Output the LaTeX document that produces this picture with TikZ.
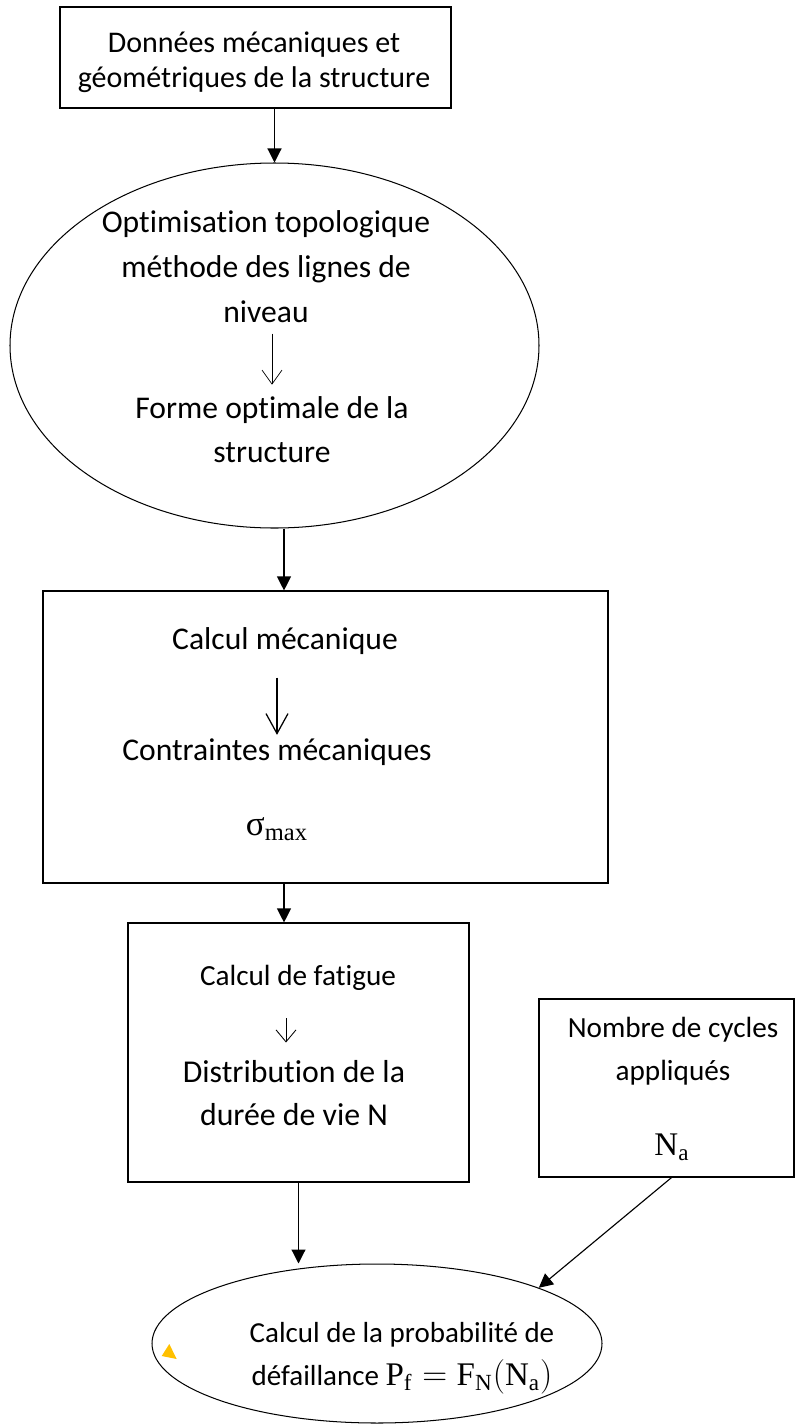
\documentclass[tikz,border=0pt]{standalone}
\usepackage{fontspec}
\usepackage{amsmath}
\setmainfont{Carlito}[Ligatures=NoCommon]
\newfontfamily\cambria{Liberation Serif}
\newcommand{\mth}[1]{\text{\cambria #1}}
\usetikzlibrary{shapes.geometric,arrows.meta,calc}
\definecolor{ancre}{HTML}{FFC000}
\tikzset{
  boite/.style={draw=black, line width=.2mm, rectangle, inner sep=0pt},
  ovale/.style={draw=black, line width=.18mm, ellipse, inner sep=0pt},
  texte/.style={align=center, anchor=base, inner sep=0pt},
  fleche/.style={-{Triangle[length=7pt,width=7pt]}, line width=.2mm, black},
  flechetxt/.style={-{Straight Barb[length=7pt,width=10pt]}, line width=.12mm, black},
}
\begin{document}
\begin{tikzpicture}[x=0.5pt,y=-0.5pt]
        \useasboundingbox (0,0) rectangle (796,1425);

        %box drawing
        \node[boite, minimum width=195.5pt, minimum height=50.5pt] (donnees) at (255.5,57.5) {};
        \node[ovale, minimum width=264.5pt, minimum height=182.5pt] (optim) at (274.5,345.5) {};
        \node[boite, minimum width=282.5pt, minimum height=146pt] (calcul) at (325.5,737) {};
        \node[boite, minimum width=170.5pt, minimum height=129.5pt] (fatigue) at (298.5,1052.5) {};
        \node[boite, minimum width=127.5pt, minimum height=89pt] (cycles) at (666.5,1088) {};
        \node[ovale, minimum width=225pt, minimum height=79.5pt] (proba) at (377,1343.5) {};

        % texts
        \node[texte, font=\fontsize{15}{17.5}\selectfont] (tdonnees) at (254,87) {Données mécaniques et\\géométriques de la structure};
        \node[texte, font=\fontsize{15.8}{22.5}\selectfont] (toptim) at (266,322) {Optimisation topologique\\méthode des lignes de\\niveau};
        \node[texte, font=\fontsize{15.8}{22}\selectfont] (tforme) at (272,462) {Forme optimale de la\\structure};
        \node[texte, font=\fontsize{15.8}{22}\selectfont] (tcalcul) at (285,649) {Calcul mécanique};
        \node[texte, font=\fontsize{15.8}{22}\selectfont] (tcontr) at (277,760) {Contraintes mécaniques};
        \node[texte, font=\fontsize{17.5}{20}\selectfont] (tsigma) at (277,835) {$\mth{σ}_{\mth{max}}$};
        \node[texte, font=\fontsize{14.6}{21.5}\selectfont] (tfatigue) at (298,985) {Calcul de fatigue};
        \node[texte, font=\fontsize{15.9}{21.5}\selectfont] (tdistrib) at (294,1125) {Distribution de la\\durée de vie N};
        \node[texte, font=\fontsize{14.6}{21.5}\selectfont] (tnombre) at (673,1080) {Nombre de cycles\\appliqués};
        \node[texte, font=\fontsize{16.5}{19}\selectfont] (tna) at (672,1155) {$\mth{N}_{\mth{a}}$};
        \node[texte, font=\fontsize{14.5}{21.5}\selectfont] (tproba) at (402,1385) {Calcul de la probabilité de\\défaillance {\fontsize{16.5}{21.5}\selectfont$\mth{P}_{\mth{f}} = \mth{F}_{\mth{N}}(\mth{N}_{\mth{a}})$}};

        % arrows inside the shapes
        \draw[flechetxt, shorten <=5.5pt, shorten >=5.5pt] (toptim.south -| tforme.north) -- (tforme.north);
        \draw[flechetxt, line width=.22mm, -{Straight Barb[length=10pt,width=11pt]}, shorten <=11.5pt, shorten >=1.5pt] (tcalcul.south -| tcontr.north) -- (tcontr.north);
        \draw[flechetxt, line width=.15mm, -{Straight Barb[length=6pt,width=10pt]}, shorten <=14pt, shorten >=8.5pt] ([xshift=-6pt]tfatigue.south) -- ([xshift=-6pt]tfatigue.south |- tdistrib.north);

        % Vertical
        \draw[fleche] (donnees.south -| optim.north) -- (optim.north);
        \draw[fleche] ([xshift=4.75pt]optim.south) -- ([xshift=4.75pt]optim.south |- calcul.north);
        \draw[fleche] ([xshift=-7.25pt]fatigue.north |- calcul.south) -- ([xshift=-7.25pt]fatigue.north);
        \draw[fleche] (fatigue.south) -- (fatigue.south |- proba.north);

        %Slanted
        \draw[fleche] ([xshift=2.5pt]cycles.south) -- (proba.19);

        \fill[ancre] (161.7,1356) -- (176.7,1359) -- (169.3,1344) -- cycle;
    \end{tikzpicture}
\end{document}
